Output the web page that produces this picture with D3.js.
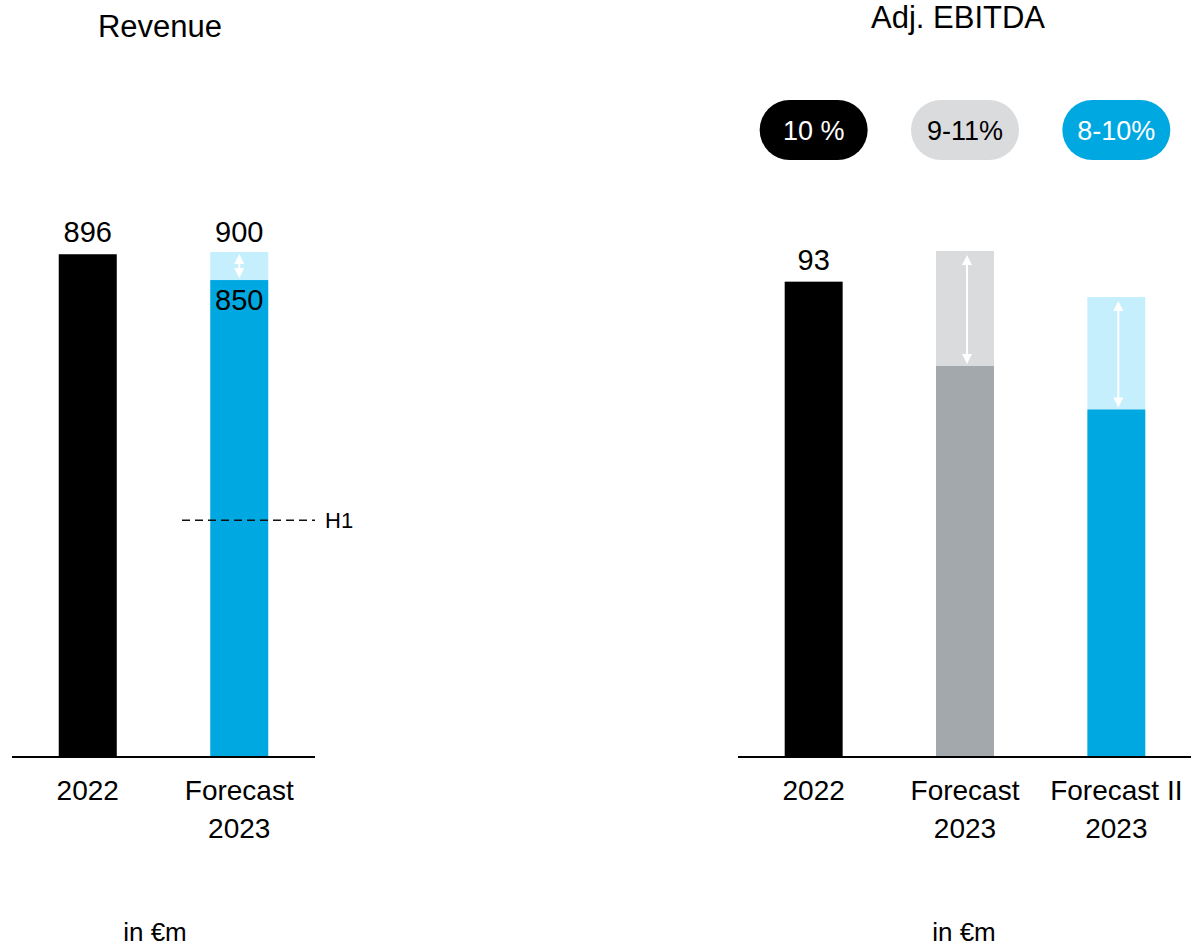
<!DOCTYPE html>
<html>
<head>
<meta charset="utf-8">
<script src="https://cdn.jsdelivr.net/npm/d3@7"></script>
<style>
  body { margin: 0; background: #fff; }
  text { font-family: "Liberation Sans", Arial, sans-serif; fill: #000; }
</style>
</head>
<body>
<script>
// data
var revenueCats = ['2022', 'Forecast|2023'];
var revenueLow = [896, 850];
var revenueHigh = [896, 900];
var revenueH1 = 422;

var ebitdaCats = ['2022', 'Forecast|2023', 'Forecast II|2023'];
var ebitdaLow = [93, 76.5, 68];
var ebitdaHigh = [93, 99, 90];
var ebitdaMargins = ['10 %', '9-11%', '8-10%'];

var W = 1191, H = 949, base = 757;

var colBase = ['#000000', '#00a8e1'];
var colRange = ['#000000', '#c6effd'];
var ebBase = ['#000000', '#a3a8ac', '#00a8e1'];
var ebRange = ['#000000', '#dadbdd', '#c6effd'];
var pillFill = ['#000000', '#dadbdd', '#00a8e1'];
var pillText = ['#ffffff', '#000000', '#ffffff'];

var svg = d3.select('body').append('svg')
  .attr('width', W).attr('height', H);

// scales
var xr = d3.scaleBand().domain(revenueCats).range([12, 315])
  .paddingInner(0.617).paddingOuter(0.3085);
var yr = d3.scaleLinear().domain([0, 900]).range([base, 252]);

var xe = d3.scaleBand().domain(ebitdaCats).range([738, 1192])
  .paddingInner(0.617).paddingOuter(0.3085);
var ye = d3.scaleLinear().domain([0, 99]).range([base, 251]);

function arrow(g, x, y1, y2) {
  g.append('line').attr('x1', x).attr('x2', x).attr('y1', y1 + 6).attr('y2', y2 - 6)
    .attr('stroke', '#fff').attr('stroke-width', 2);
  g.append('path').attr('d', 'M' + x + ',' + y1 + 'l-5,10h10z').attr('fill', '#fff');
  g.append('path').attr('d', 'M' + x + ',' + y2 + 'l-5,-10h10z').attr('fill', '#fff');
}

function catLabel(g, x, cat) {
  var parts = cat.split('|');
  parts.forEach(function (p, i) {
    g.append('text').attr('x', x).attr('y', 800 + i * 38)
      .attr('text-anchor', 'middle').style('font-size', '28px').text(p);
  });
}

// ---- Revenue ----
var gr = svg.append('g');
gr.append('text').attr('x', 160).attr('y', 37).attr('text-anchor', 'middle')
  .style('font-size', '31px').text('Revenue');

revenueCats.forEach(function (c, i) {
  var x = xr(c), bw = xr.bandwidth();
  gr.append('rect').attr('x', x).attr('width', bw)
    .attr('y', yr(revenueHigh[i])).attr('height', yr(revenueLow[i]) - yr(revenueHigh[i]))
    .attr('fill', colRange[i]);
  gr.append('rect').attr('x', x).attr('width', bw)
    .attr('y', yr(revenueLow[i])).attr('height', base - yr(revenueLow[i]))
    .attr('fill', colBase[i]);
  catLabel(gr, x + bw / 2, c);
});

// value labels
gr.append('text').attr('x', xr(revenueCats[0]) + xr.bandwidth() / 2).attr('y', yr(revenueHigh[0]) - 12)
  .attr('text-anchor', 'middle').style('font-size', '29px').text(revenueHigh[0]);
gr.append('text').attr('x', xr(revenueCats[1]) + xr.bandwidth() / 2).attr('y', yr(revenueHigh[1]) - 10)
  .attr('text-anchor', 'middle').style('font-size', '29px').text(revenueHigh[1]);
gr.append('text').attr('x', xr(revenueCats[1]) + xr.bandwidth() / 2).attr('y', yr(revenueLow[1]) + 30)
  .attr('text-anchor', 'middle').style('font-size', '29px').text(revenueLow[1]);
arrow(gr, xr(revenueCats[1]) + xr.bandwidth() / 2, yr(revenueHigh[1]) + 2, yr(revenueLow[1]) - 2);

// H1 marker
gr.append('line').attr('x1', 182).attr('x2', 315).attr('y1', yr(revenueH1)).attr('y2', yr(revenueH1))
  .attr('stroke', '#111').attr('stroke-width', 1.6).attr('stroke-dasharray', '8,5');
gr.append('text').attr('x', 325).attr('y', yr(revenueH1) + 8).style('font-size', '22px').text('H1');

// axis line
gr.append('line').attr('x1', 12).attr('x2', 315).attr('y1', base).attr('y2', base)
  .attr('stroke', '#000').attr('stroke-width', 2);

gr.append('text').attr('x', 155).attr('y', 941).attr('text-anchor', 'middle')
  .style('font-size', '26px').text('in €m');

// ---- Adj. EBITDA ----
var ge = svg.append('g');
ge.append('text').attr('x', 958).attr('y', 28).attr('text-anchor', 'middle')
  .style('font-size', '31px').text('Adj. EBITDA');

ebitdaCats.forEach(function (c, i) {
  var x = xe(c), bw = xe.bandwidth(), cx = x + bw / 2;
  ge.append('rect').attr('x', x).attr('width', bw)
    .attr('y', ye(ebitdaHigh[i])).attr('height', ye(ebitdaLow[i]) - ye(ebitdaHigh[i]))
    .attr('fill', ebRange[i]);
  ge.append('rect').attr('x', x).attr('width', bw)
    .attr('y', ye(ebitdaLow[i])).attr('height', base - ye(ebitdaLow[i]))
    .attr('fill', ebBase[i]);
  if (ebitdaHigh[i] > ebitdaLow[i]) {
    arrow(ge, cx + 2, ye(ebitdaHigh[i]) + 4, ye(ebitdaLow[i]) - 2);
  }
  catLabel(ge, cx, c);

  // margin pills
  ge.append('rect').attr('x', cx - 54).attr('y', 100).attr('width', 108).attr('height', 60)
    .attr('rx', 30).attr('fill', pillFill[i]);
  ge.append('text').attr('x', cx).attr('y', 140).attr('text-anchor', 'middle')
    .style('font-size', '27px').style('fill', pillText[i]).text(ebitdaMargins[i]);
});

ge.append('text').attr('x', xe(ebitdaCats[0]) + xe.bandwidth() / 2).attr('y', ye(ebitdaHigh[0]) - 12)
  .attr('text-anchor', 'middle').style('font-size', '29px').text(ebitdaHigh[0]);

ge.append('line').attr('x1', 738).attr('x2', 1191).attr('y1', base).attr('y2', base)
  .attr('stroke', '#000').attr('stroke-width', 2);

ge.append('text').attr('x', 964).attr('y', 941).attr('text-anchor', 'middle')
  .style('font-size', '26px').text('in €m');
</script>
</body>
</html>
